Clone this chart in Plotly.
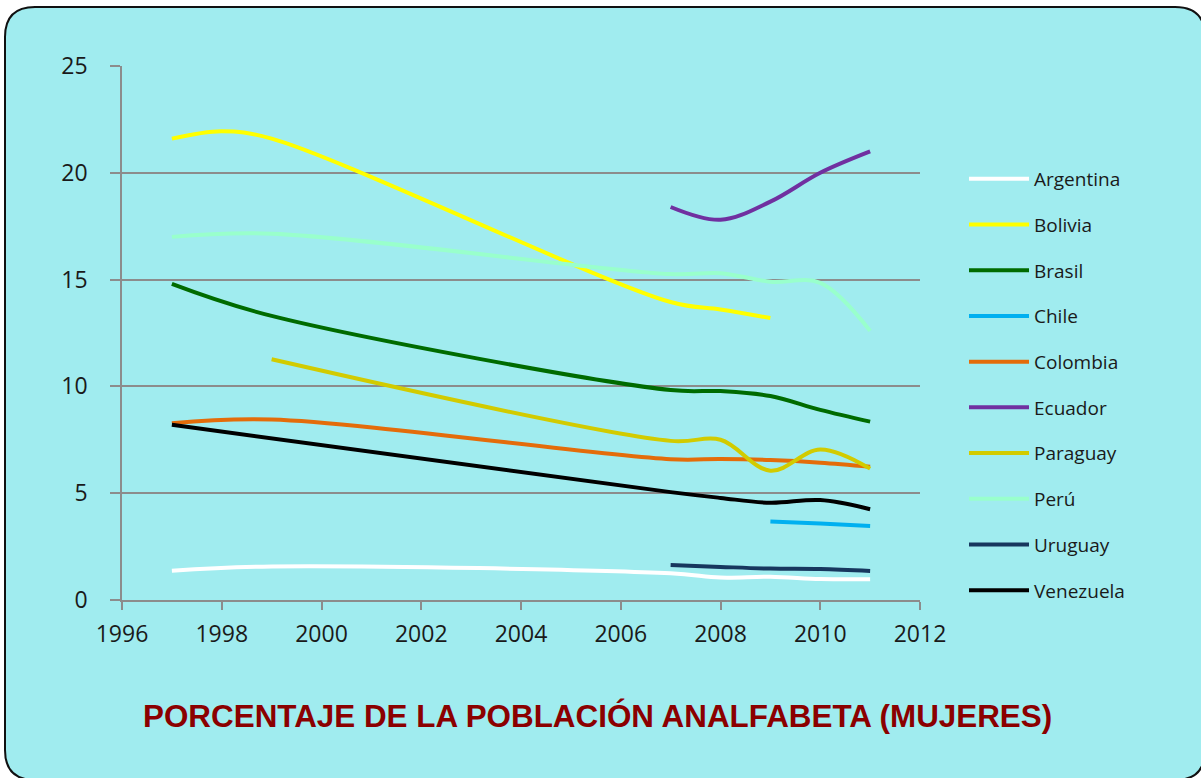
import plotly.graph_objects as go

# Porcentaje de la población analfabeta (mujeres)
countries = ["Argentina", "Bolivia", "Brasil", "Chile", "Colombia",
             "Ecuador", "Paraguay", "Perú", "Uruguay", "Venezuela"]

argentina_years = [1997, 1999, 2007, 2008, 2009, 2010, 2011]
argentina_vals = [1.37, 1.57, 1.25, 1.05, 1.09, 0.98, 0.97]

bolivia_years = [1997, 1998, 1999, 2007, 2008, 2009]
bolivia_vals = [21.6, 21.95, 21.6, 13.95, 13.6, 13.2]

brasil_years = [1997, 1999, 2007, 2008, 2009, 2010, 2011]
brasil_vals = [14.8, 13.3, 9.83, 9.78, 9.55, 8.9, 8.35]

chile_years = [2009, 2010, 2011]
chile_vals = [3.68, 3.58, 3.47]

colombia_years = [1997, 1999, 2007, 2008, 2009, 2010, 2011]
colombia_vals = [8.27, 8.45, 6.59, 6.6, 6.55, 6.43, 6.24]

ecuador_years = [2007, 2008, 2009, 2010, 2011]
ecuador_vals = [18.4, 17.8, 18.65, 20.0, 21.0]

paraguay_years = [1999, 2007, 2008, 2009, 2010, 2011]
paraguay_vals = [11.27, 7.45, 7.5, 6.05, 7.05, 6.15]

peru_years = [1997, 1999, 2007, 2008, 2009, 2010, 2011]
peru_vals = [17.0, 17.15, 15.26, 15.3, 14.9, 14.85, 12.6]

uruguay_years = [2007, 2008, 2009, 2010, 2011]
uruguay_vals = [1.64, 1.55, 1.47, 1.45, 1.36]

venezuela_years = [1997, 2007, 2008, 2009, 2010, 2011]
venezuela_vals = [8.2, 5.05, 4.78, 4.55, 4.68, 4.25]

series = [
    (argentina_years, argentina_vals, "#FFFFFF"),
    (bolivia_years, bolivia_vals, "#FFFF00"),
    (brasil_years, brasil_vals, "#006B00"),
    (chile_years, chile_vals, "#00B0F0"),
    (colombia_years, colombia_vals, "#E46C0A"),
    (ecuador_years, ecuador_vals, "#7030A0"),
    (paraguay_years, paraguay_vals, "#D2CB00"),
    (peru_years, peru_vals, "#99FFCC"),
    (uruguay_years, uruguay_vals, "#17375E"),
    (venezuela_years, venezuela_vals, "#000000"),
]

W, H = 1201, 778
L, R, T, B = 122, 281, 66, 178
pw, ph = W - L - R, H - T - B


def px_x(p):
    return (p - L) / pw


def px_y(p):
    return (H - B - p) / ph


fig = go.Figure()
for name, (xs, ys, col) in zip(countries, series):
    fig.add_trace(go.Scatter(
        x = xs,
        y = ys,
        name = name,
        legendgroup = name,
        mode = "lines",
        line = {"color": col, "width": 4, "shape": "spline", "smoothing": 1.0},
    ))

# rounded cyan box behind everything
x0, x1, y0, y1, r = 5, 1205, 7, 780, 30
rx, ry = r / pw, r / ph
X0, X1, Y0, Y1 = px_x(x0), px_x(x1), px_y(y0), px_y(y1)
box = (f"M{X0+rx},{Y0} L{X1-rx},{Y0} Q{X1},{Y0} {X1},{Y0-ry} "
       f"L{X1},{Y1+ry} Q{X1},{Y1} {X1-rx},{Y1} "
       f"L{X0+rx},{Y1} Q{X0},{Y1} {X0},{Y1+ry} "
       f"L{X0},{Y0-ry} Q{X0},{Y0} {X0+rx},{Y0} Z")

fig.update_layout(
    width = W,
    height = H,
    margin = {"l": L, "r": R, "t": T, "b": B, "pad": 0},
    paper_bgcolor = "#FFFFFF",
    plot_bgcolor = "#C4BD97",
    font = {"family": "Open Sans", "color": "#1A1A1A"},
    shapes = [{
        "type": "path",
        "path": box,
        "xref": "paper",
        "yref": "paper",
        "fillcolor": "#A0ECEF",
        "line": {"color": "#111111", "width": 2},
        "layer": "below",
    }],
    xaxis = {
        "range": [1996, 2012],
        "tickvals": list(range(1996, 2013, 2)),
        "showgrid": False,
        "zeroline": False,
        "showline": True,
        "linecolor": "#8C8C8C",
        "linewidth": 1.5,
        "ticks": "outside",
        "ticklen": 8,
        "tickcolor": "#8C8C8C",
        "tickwidth": 1.5,
        "tickfont": {"size": 23},
        "ticklabelstandoff": 5,
    },
    yaxis = {
        "range": [0, 25],
        "tickvals": [0, 5, 10, 15, 20, 25],
        "showgrid": True,
        "gridcolor": "#8C8C8C",
        "gridwidth": 1.5,
        "zeroline": False,
        "showline": True,
        "linecolor": "#8C8C8C",
        "linewidth": 1.5,
        "ticks": "outside",
        "ticklen": 10,
        "tickcolor": "#8C8C8C",
        "tickwidth": 1.5,
        "tickfont": {"size": 23},
        "ticklabelstandoff": 18,
    },
    legend = {
        "x": px_x(964),
        "xanchor": "left",
        "y": px_y(160),
        "yanchor": "top",
        "bgcolor": "rgba(0,0,0,0)",
        "font": {"size": 19, "color": "#1A1A1A"},
        "itemwidth": 60,
        "tracegroupgap": 18,
    },
    annotations = [{
        "text": "<b>PORCENTAJE DE LA POBLACIÓN ANALFABETA (MUJERES)</b>",
        "xref": "paper",
        "yref": "paper",
        "x": px_x(597),
        "y": px_y(716),
        "xanchor": "center",
        "yanchor": "middle",
        "showarrow": False,
        "font": {"family": "Liberation Sans", "size": 31.4, "color": "#8B0000"},
    }],
)

# drop the page's default body margin so the figure sits at the window origin
fig.write_html("out.html", config={"displayModeBar": False},
               post_script="document.body.style.margin='0';")
